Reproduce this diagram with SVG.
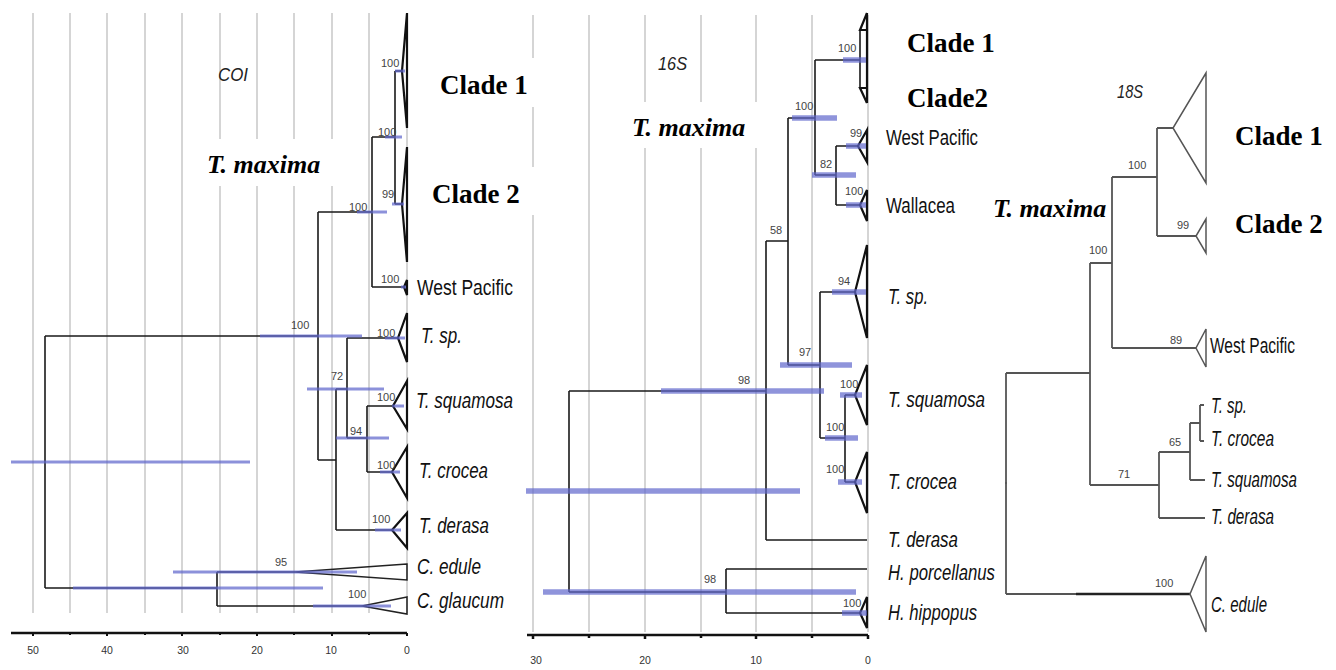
<svg xmlns="http://www.w3.org/2000/svg" width="1336" height="670" viewBox="0 0 1336 670">
<style>
.grid{stroke:#c8c8c8;stroke-width:1.5;fill:none}
.br{stroke:#1a1a1a;stroke-width:1.6;fill:none}
.br18{stroke:#555;stroke-width:1.8;fill:none}
.tri{stroke:#111;stroke-width:2.2;fill:none;stroke-linejoin:miter}
.tri1{stroke:#222;stroke-width:1.5;fill:none}
.tri18{stroke:#555;stroke-width:1.5;fill:none}
.bar{stroke:#5f66cc;stroke-opacity:0.72;stroke-width:3;fill:none}
.bar16{stroke:#5f66cc;stroke-opacity:0.7;stroke-width:5.5;fill:none}
.axis{stroke:#111;stroke-width:2.5;fill:none}
.bs{font-family:"Liberation Sans",Arial,sans-serif;font-size:11px;fill:#444}
.bs18{font-family:"Liberation Sans",Arial,sans-serif;font-size:11px;fill:#444}
.ax{font-family:"Liberation Sans",Arial,sans-serif;font-size:10.5px;fill:#333;text-anchor:middle}
.sp{font-family:"Liberation Sans",Arial,sans-serif;font-style:italic;font-size:22px;fill:#111}
.rg{font-family:"Liberation Sans",Arial,sans-serif;font-size:22px;fill:#111}
.gene{font-family:"Liberation Sans",Arial,sans-serif;font-style:italic;font-size:18px;fill:#222}
.clade{font-family:"Liberation Serif","Times New Roman",serif;font-weight:bold;font-size:27px;fill:#000}
.tm{font-family:"Liberation Serif","Times New Roman",serif;font-weight:bold;font-style:italic;font-size:26px;fill:#000}
.wb{fill:#fff}
</style>

<!-- ===== COI panel ===== -->
<g id="coi-grid">
  <path class="grid" d="M33,13V613M70,13V613M107,13V613M145,13V613M182,13V613M220,13V613M257,13V613M294,13V613M332,13V613M369,13V613M407,13V613"/>
  <path class="axis" d="M11,633H407"/>
  <path stroke="#111" stroke-width="2" d="M33,633v3M70,633v2M107,633v3M145,633v2M182,633v3M220,633v2M257,633v3M294,633v2M332,633v3M369,633v2M407,633v3"/>
  <text class="ax" x="33" y="654">50</text>
  <text class="ax" x="107" y="654">40</text>
  <text class="ax" x="183" y="654">30</text>
  <text class="ax" x="257" y="654">20</text>
  <text class="ax" x="331" y="654">10</text>
  <text class="ax" x="407" y="654">0</text>
</g>
<!-- ===== 16S grid ===== -->
<g id="s16-grid">
  <path class="grid" d="M533,15V632M589,15V632M645,15V632M701,15V632M756,15V632M812,15V632M868,15V632"/>
  <path class="axis" stroke-width="3" d="M527,635H868"/>
  <path stroke="#111" stroke-width="2.5" d="M533,635v4M589,635v3M645,635v4M701,635v3M756,635v4M812,635v3M868,635v4"/>
  <text class="ax" x="536" y="664">30</text>
  <text class="ax" x="645" y="664">20</text>
  <text class="ax" x="756" y="664">10</text>
  <text class="ax" x="868" y="664">0</text>
</g>

<!-- white boxes behind big labels -->
<g id="label-boxes">
  <rect class="wb" x="186" y="139" width="150" height="47"/>
  <rect class="wb" x="412" y="58" width="136" height="49"/>
  <rect class="wb" x="412" y="167" width="136" height="48"/>
  <rect class="wb" x="612" y="102" width="165" height="46"/>
</g>

<g id="connectors">
  <!-- COI -->
  <path class="br" d="M45,336V588M45,336H318M45,588H217
    M318,212V460M318,212H372M318,460H336
    M372,137V287M372,137H395M372,287H404
    M395,71V204M395,71H402M395,204H402
    M336,389V530M336,389H347M336,530H392
    M347,338V438M347,338H398M347,438H367
    M367,406V472M367,406H393M367,472H392
    M217,572V606M217,572H295M217,606H362"/>
  <!-- 16S -->
  <path class="br" stroke-width="2" d="M569,391V592M569,391H766M569,592H726
    M766,241V540M766,241H788M766,540H867
    M788,118V365M788,118H815M788,365H820
    M815,60V175M815,60H860M815,175H836
    M860,30V88
    M836,146V205M836,146H858M836,205H860
    M820,292V438M820,292H855M820,438H845
    M845,395V482M845,395H855M845,482H855
    M726,569V613M726,569H867M726,613H860"/>
  <!-- 18S -->
  <path class="br18" d="M1006,373V594M1006,373H1090M1006,594H1190
    M1090,263V485M1090,263H1112M1090,485H1159
    M1112,177V348M1112,177H1157M1112,348H1196
    M1157,128V236M1157,128H1173M1157,236H1196
    M1159,452V518M1159,452H1190M1159,518H1205
    M1190,423V480M1190,423H1200M1190,480H1205
    M1200,405V441M1200,405H1204M1200,441H1204"/>
  <path stroke="#222" stroke-width="2.6" d="M1076,594H1190"/>
  <circle cx="1006" cy="483" r="1" fill="#555"/>
</g>

<!-- ===== COI nodes ===== -->
<g id="coi-clade1"><polygon class="tri" points="407,13 402,71 407,128"/></g>
<g id="coi-clade2"><polygon class="tri" points="407,147 402,204 407,262"/></g>
<g id="coi-westpacific"><polygon class="tri" points="407,280 404,287 407,295"/><text class="rg" x="417" y="295" textLength="96" lengthAdjust="spacingAndGlyphs">West Pacific</text></g>
<g id="coi-tsp"><polygon class="tri" points="407,313 398,338 407,362"/><text class="sp" x="421" y="343" textLength="41" lengthAdjust="spacingAndGlyphs">T. sp.</text></g>
<g id="coi-tsquamosa"><polygon class="tri" points="407,381 393,406 407,429"/><text class="sp" x="416" y="408" textLength="97" lengthAdjust="spacingAndGlyphs">T. squamosa</text></g>
<g id="coi-tcrocea"><polygon class="tri" points="407,447 392,472 407,498"/><text class="sp" x="419" y="478" textLength="69" lengthAdjust="spacingAndGlyphs">T. crocea</text></g>
<g id="coi-tderasa"><polygon class="tri" points="407,513 392,530 407,548"/><text class="sp" x="419" y="533" textLength="70" lengthAdjust="spacingAndGlyphs">T. derasa</text></g>
<g id="coi-cedule"><polygon class="tri1" points="407,564 295,572 407,580"/><text class="sp" x="417" y="574" textLength="64" lengthAdjust="spacingAndGlyphs">C. edule</text></g>
<g id="coi-cglaucum"><polygon class="tri1" points="407,597 362,606 407,614"/><text class="sp" x="417" y="608" textLength="87" lengthAdjust="spacingAndGlyphs">C. glaucum</text></g>

<g id="coi-bars">
  <path class="bar" d="M395,71H405M385,137H402M392,204H404M357,212H387M401,287H406M260,336H362M385,338H405M307,389H384M392,406H404M336,438H389M11,462H250M380,472H400M375,530H401M173,572H357M73,588H323M313,606H391"/>
</g>
<g id="coi-support">
  <text class="bs" x="381" y="67">100</text>
  <text class="bs" x="378" y="136">100</text>
  <text class="bs" x="382" y="198">99</text>
  <text class="bs" x="349" y="211">100</text>
  <text class="bs" x="381" y="283">100</text>
  <text class="bs" x="291" y="329">100</text>
  <text class="bs" x="377" y="337">100</text>
  <text class="bs" x="331" y="380">72</text>
  <text class="bs" x="377" y="401">100</text>
  <text class="bs" x="350" y="435">94</text>
  <text class="bs" x="377" y="469">100</text>
  <text class="bs" x="372" y="523">100</text>
  <text class="bs" x="275" y="566">95</text>
  <text class="bs" x="348" y="598">100</text>
</g>
<g id="coi-labels">
  <text class="gene" x="218" y="81" textLength="30" lengthAdjust="spacingAndGlyphs">COI</text>
  <text class="tm" x="207" y="173">T. maxima</text>
  <text class="clade" x="440" y="94">Clade 1</text>
  <text class="clade" x="432" y="203">Clade 2</text>
</g>

<!-- ===== 16S nodes ===== -->
<g id="s16-clade1"><path class="tri" stroke-width="2" d="M867,13L860,30H867"/><path class="tri" stroke-width="2" d="M867,13V103"/><text class="clade" x="907" y="52">Clade 1</text></g>
<g id="s16-clade2"><path class="tri" stroke-width="2" d="M867,103L860,88H867"/><text class="clade" x="907" y="107">Clade2</text></g>
<g id="s16-westpacific"><polygon class="tri" stroke-width="2" points="867,130 858,146 867,162"/><text class="rg" x="886" y="145" textLength="92" lengthAdjust="spacingAndGlyphs">West Pacific</text></g>
<g id="s16-wallacea"><polygon class="tri" stroke-width="2" points="867,190 860,205 867,221"/><text class="rg" x="886" y="213" textLength="69" lengthAdjust="spacingAndGlyphs">Wallacea</text></g>
<g id="s16-tsp"><polygon class="tri" stroke-width="2" points="867,245 855,292 867,338"/><text class="sp" x="888" y="304" textLength="40" lengthAdjust="spacingAndGlyphs">T. sp.</text></g>
<g id="s16-tsquamosa"><polygon class="tri" stroke-width="2" points="867,365 855,395 867,425"/><text class="sp" x="888" y="407" textLength="97" lengthAdjust="spacingAndGlyphs">T. squamosa</text></g>
<g id="s16-tcrocea"><polygon class="tri" stroke-width="2" points="867,452 855,482 867,513"/><text class="sp" x="888" y="489" textLength="69" lengthAdjust="spacingAndGlyphs">T. crocea</text></g>
<g id="s16-tderasa"><text class="sp" x="888" y="547" textLength="70" lengthAdjust="spacingAndGlyphs">T. derasa</text></g>
<g id="s16-hporcellanus"><text class="sp" x="888" y="580" textLength="107" lengthAdjust="spacingAndGlyphs">H. porcellanus</text></g>
<g id="s16-hhippopus"><polygon class="tri" stroke-width="2" points="867,597 860,613 867,628"/><text class="sp" x="888" y="620" textLength="89" lengthAdjust="spacingAndGlyphs">H. hippopus</text></g>

<g id="s16-bars">
  <path class="bar16" d="M843,60H866M792,118H837M846,146H866M812,175H856M846,205H866M832,292H866M780,365H852M661,391H824M840,395H862M825,438H858M838,482H862M526,491H800M543,592H856M842,613H867"/>
</g>
<g id="s16-support">
  <text class="bs" x="838" y="52">100</text>
  <text class="bs" x="795" y="110">100</text>
  <text class="bs" x="850" y="137">99</text>
  <text class="bs" x="820" y="168">82</text>
  <text class="bs" x="845" y="195">100</text>
  <text class="bs" x="770" y="234">58</text>
  <text class="bs" x="838" y="285">94</text>
  <text class="bs" x="799" y="356">97</text>
  <text class="bs" x="738" y="384">98</text>
  <text class="bs" x="840" y="388">100</text>
  <text class="bs" x="826" y="431">100</text>
  <text class="bs" x="826" y="473">100</text>
  <text class="bs" x="704" y="583">98</text>
  <text class="bs" x="843" y="607">100</text>
</g>
<g id="s16-labels">
  <text class="gene" x="658" y="70" textLength="29" lengthAdjust="spacingAndGlyphs">16S</text>
  <text class="tm" x="632" y="136">T. maxima</text>
</g>

<!-- ===== 18S nodes ===== -->
<g id="r18-clade1"><polygon class="tri18" points="1206,73 1173,128 1206,183"/><text class="clade" x="1235" y="145">Clade 1</text></g>
<g id="r18-clade2"><polygon class="tri18" points="1206,219 1196,236 1206,253"/><text class="clade" x="1235" y="233">Clade 2</text></g>
<g id="r18-westpacific"><polygon class="tri18" points="1206,329 1196,348 1206,367"/><text class="rg" x="1210" y="353" textLength="85" lengthAdjust="spacingAndGlyphs">West Pacific</text></g>
<g id="r18-tsp"><text class="sp" x="1211" y="413" textLength="36" lengthAdjust="spacingAndGlyphs">T. sp.</text></g>
<g id="r18-tcrocea"><text class="sp" x="1211" y="446" textLength="63" lengthAdjust="spacingAndGlyphs">T. crocea</text></g>
<g id="r18-tsquamosa"><text class="sp" x="1211" y="487" textLength="86" lengthAdjust="spacingAndGlyphs">T. squamosa</text></g>
<g id="r18-tderasa"><text class="sp" x="1211" y="524" textLength="63" lengthAdjust="spacingAndGlyphs">T. derasa</text></g>
<g id="r18-cedule"><polygon class="tri18" points="1206,556 1190,594 1206,632"/><text class="sp" x="1211" y="612" textLength="56" lengthAdjust="spacingAndGlyphs">C. edule</text></g>
<g id="r18-support">
  <text class="bs18" x="1128" y="169">100</text>
  <text class="bs18" x="1177" y="229">99</text>
  <text class="bs18" x="1089" y="254">100</text>
  <text class="bs18" x="1170" y="344">89</text>
  <text class="bs18" x="1169" y="446">65</text>
  <text class="bs18" x="1118" y="478">71</text>
  <text class="bs18" x="1155" y="587">100</text>
</g>
<g id="r18-labels">
  <text class="gene" x="1117" y="98" textLength="26" lengthAdjust="spacingAndGlyphs">18S</text>
  <text class="tm" x="993" y="217" font-size="23.5">T. maxima</text>
</g>
</svg>
